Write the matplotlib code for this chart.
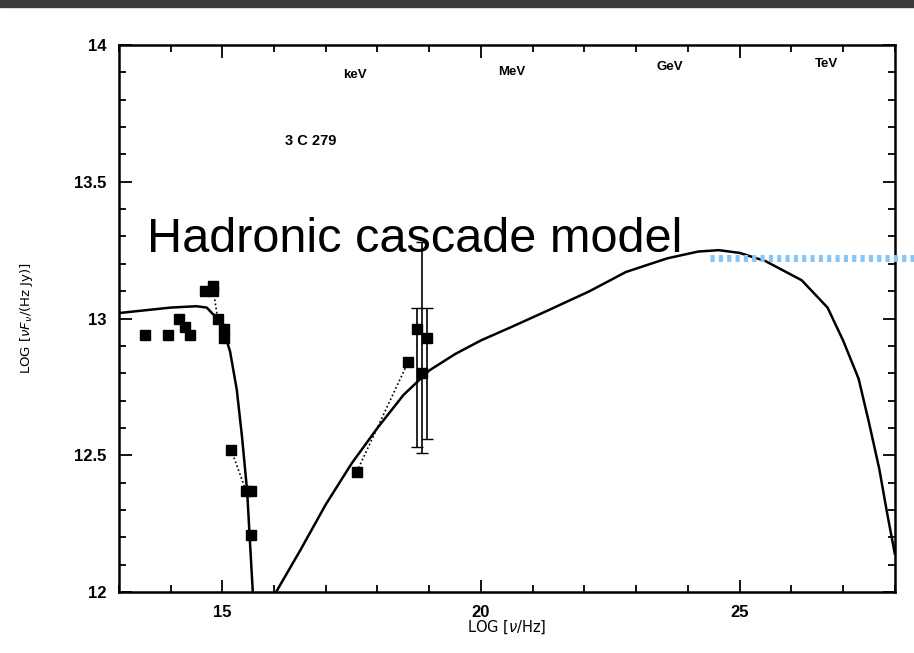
import matplotlib
matplotlib.use("Agg")
import matplotlib.pyplot as plt
from matplotlib.patches import Rectangle
from matplotlib.lines import Line2D
from matplotlib.ticker import MultipleLocator

# synchrotron branch of the model
low_x = [13.0, 13.5, 14.0, 14.5, 14.7, 14.85, 15.0, 15.15, 15.28, 15.38, 15.48, 15.53, 15.59]
low_y = [13.02, 13.03, 13.04, 13.045, 13.04, 13.01, 12.97, 12.88, 12.74, 12.57, 12.37, 12.2, 12.0]

# hadronic cascade branch
high_x = [16.04, 16.5, 17.0, 17.5, 18.0, 18.5, 19.0, 19.5, 20.0, 20.6, 21.3, 22.1, 22.8,
          23.6, 24.2, 24.6, 25.0, 25.5, 26.2, 26.7, 27.0, 27.3, 27.5, 27.7, 27.85, 28.0]
high_y = [12.0, 12.15, 12.32, 12.47, 12.60, 12.72, 12.81, 12.87, 12.92, 12.97, 13.03, 13.10, 13.17,
          13.22, 13.245, 13.25, 13.24, 13.21, 13.14, 13.04, 12.92, 12.78, 12.62, 12.45, 12.29, 12.14]

# radio-optical observations
obs_x = [13.50, 13.95, 14.16, 14.28, 14.37, 14.66, 14.82, 14.83, 14.91, 15.03, 15.03,
         15.17, 15.46, 15.55, 15.55]
obs_y = [12.94, 12.94, 13.00, 12.97, 12.94, 13.10, 13.12, 13.10, 13.00, 12.96, 12.93,
         12.52, 12.37, 12.37, 12.21]

# X-ray points
xr_x = [17.60, 18.59]
xr_y = [12.44, 12.84]

# points with error bars
eb_x = [18.76, 18.86, 18.96]
eb_y = [12.96, 12.80, 12.93]
eb_lo = [12.53, 12.51, 12.56]
eb_hi = [13.04, 13.28, 13.04]

# dotted connectors between observation pairs
links = [((14.83, 14.91), (13.10, 13.00)),
         ((15.17, 15.46), (12.52, 12.37)),
         ((17.60, 18.59), (12.44, 12.84))]

band_names = ["keV", "MeV", "GeV", "TeV"]
band_x = [17.56, 20.6, 23.66, 26.68]
band_y = [13.89, 13.90, 13.92, 13.93]

fig = plt.figure(figsize=(9.14, 6.53), dpi=100)
fig.patch.set_facecolor("white")
fig.add_artist(Rectangle((0, 0.99), 1, 0.01, transform=fig.transFigure,
                         color="#3a3a3a", zorder=0))

ax = fig.add_axes([0.130, 0.0934, 0.849, 0.8376])
ax.set_xlim(13, 28)
ax.set_ylim(12, 14)

ax.plot(low_x, low_y, color="black", lw=1.8)
ax.plot(high_x, high_y, color="black", lw=1.8)
for lx, ly in links:
    ax.plot(lx, ly, color="black", lw=1.2, ls=(0, (1, 1.5)))
ax.plot(obs_x, obs_y, "s", color="black", ms=6.5)
ax.plot(xr_x, xr_y, "s", color="black", ms=6.5)
ax.errorbar(eb_x, eb_y,
            yerr=[[y - lo for y, lo in zip(eb_y, eb_lo)],
                  [hi - y for y, hi in zip(eb_y, eb_hi)]],
            fmt="s", color="black", ms=6.5, elinewidth=1.2, capsize=4)

ax.xaxis.set_major_locator(MultipleLocator(5))
ax.xaxis.set_minor_locator(MultipleLocator(1))
ax.yaxis.set_major_locator(MultipleLocator(0.5))
ax.yaxis.set_minor_locator(MultipleLocator(0.1))
ax.tick_params(which="both", direction="in", top=True, right=True, width=1.3)
ax.tick_params(which="major", length=9, labelsize=12, pad=9)
ax.tick_params(which="minor", length=5)
ax.set_yticks([12, 12.5, 13, 13.5, 14])
ax.set_yticklabels(["12", "12.5", "13", "13.5", "14"])
for lab in ax.get_xticklabels() + ax.get_yticklabels():
    lab.set_fontweight("bold")
    lab.set_family("Liberation Sans")
for sp in ax.spines.values():
    sp.set_linewidth(1.8)

ax.set_xlabel(r"LOG [$\nu$/Hz]", fontsize=10.5, labelpad=-1)
ax.set_ylabel(r"LOG [$\nu F_\nu$/(Hz Jy)]", fontsize=9.5, labelpad=28)

for name, bx, by in zip(band_names, band_x, band_y):
    ax.text(bx, by, name, fontsize=9.5, fontweight="bold", ha="center", va="center",
            family="Liberation Sans")
ax.text(16.71, 13.65, "3 C 279", fontsize=10.5, fontweight="bold", ha="center", va="center",
        family="Liberation Sans")
ax.text(13.54, 13.29, "Hadronic cascade model", fontsize=35, ha="left", va="center",
        family="Liberation Sans")

fig.add_artist(Line2D([710 / 914, 1.0], [1 - 258 / 653, 1 - 258 / 653],
                      transform=fig.transFigure, color="#85c6f5", lw=5,
                      ls=(0, (0.6, 0.6))))

fig.savefig("out.png", dpi=100)
